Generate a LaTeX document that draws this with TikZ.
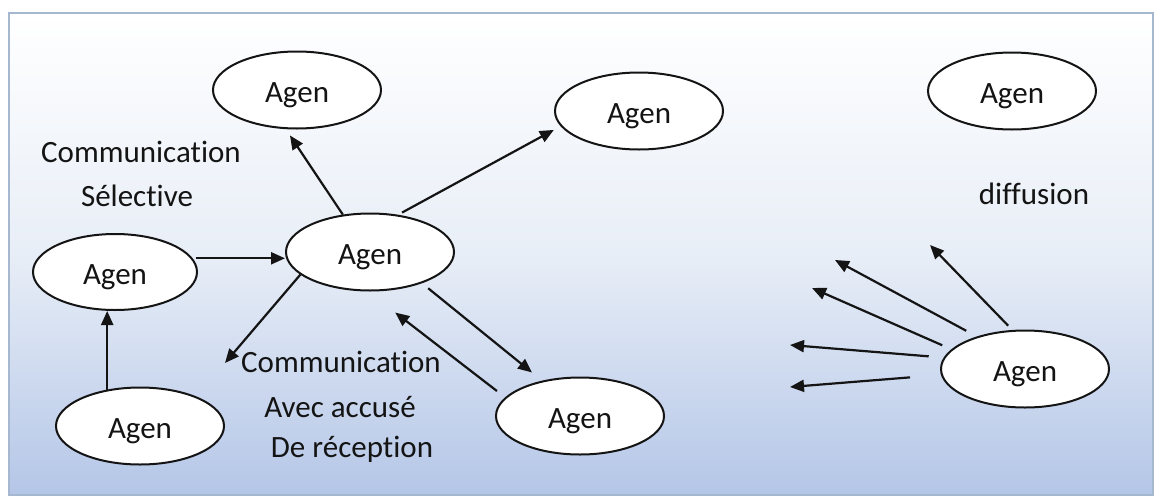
\documentclass[tikz,border=0pt]{standalone}
\usepackage{fontspec}
\setmainfont[Ligatures={NoCommon}]{Carlito}
\usetikzlibrary{arrows.meta,shapes.geometric}
\definecolor{framec}{RGB}{165,184,208}
\definecolor{bgbottom}{RGB}{180,198,231}
\definecolor{bgmid}{RGB}{232,238,247}
\definecolor{inkc}{RGB}{20,20,20}
\begin{document}
\begin{tikzpicture}[x=1pt,y=-1pt,
  agent/.style={ellipse, draw=inkc, line width=2pt, fill=white,
    minimum width=168pt, minimum height=77pt, inner sep=0pt,
    text height=30pt, text depth=6pt,
    font=\fontsize{31}{36}\selectfont, text=inkc},
  lbl/.style={anchor=base, inner sep=0pt, font=\fontsize{31}{36}\selectfont, text=inkc},
  arr/.style={draw=inkc, line width=2.2pt, -{Triangle[length=14pt,width=12pt]}}]
\useasboundingbox (0,0) rectangle (1161,498);
\shade[top color=white, bottom color=bgbottom, middle color=bgmid] (9,13) rectangle (1153,495);
\draw[framec, line width=2pt] (9,13) rectangle (1153,495);

% agents
\node[agent] (E1) at (297,90) {Agen};
\node[agent] (E2) at (639,111) {Agen};
\node[agent] (E3) at (1012,91) {Agen};
\node[agent] (E4) at (370,252) {Agen};
\node[agent, minimum width=164pt, minimum height=76pt] (E5) at (115,272) {Agen};
\node[agent] (E6) at (140,426) {Agen};
\node[agent] (E7) at (580,416) {Agen};
\node[agent] (E8) at (1025,369) {Agen};

% labels
\node[lbl] (t1) at (141,162) {Communication};
\node[lbl] (t2) at (137,206) {Sélective};
\node[lbl] (t3) at (341,372) {Communication};
\node[lbl] (t4) at (340,417) {Avec accusé};
\node[lbl] (t5) at (352,457) {De réception};
\node[lbl] (t6) at (1034,204) {diffusion};

% free ends
\coordinate (d1) at (225,363);
\coordinate (f1) at (930,245);
\coordinate (f2) at (835,260);
\coordinate (f3) at (812,288);
\coordinate (f4) at (790,345);
\coordinate (f5) at (790,387);

% selective communication
\draw[arr, shorten >=7.5pt] (E4.126) -- (E1.254);
\draw[arr, shorten <=4.5pt, shorten >=7.7pt] (E4.53) -- (E2.191);
\draw[arr, shorten <=3pt] (E5.10) -- (E5.10 -| E4.west);
\draw[arr] (E6.132) -- (E6.132 |- E5.south);
\draw[arr] (E4.198) -- (d1);

% with acknowledgement
\draw[arr, shorten <=8pt, shorten >=13pt] (E4.329) -- (E7.137);
\draw[arr, shorten <=10.3pt, shorten >=34.5pt] (E7.166) -- (E4.267);

% broadcast
\draw[arr, shorten <=6pt] (E8.108) -- (f1);
\draw[arr, shorten <=12pt] (E8.146) -- (f2);
\draw[arr, shorten <=10pt] (E8.165) -- (f3);
\draw[arr, shorten <=15pt] (E8.172) -- (f4);
\draw[arr, shorten <=31pt] (E8.184) -- (f5);
\end{tikzpicture}
\end{document}
